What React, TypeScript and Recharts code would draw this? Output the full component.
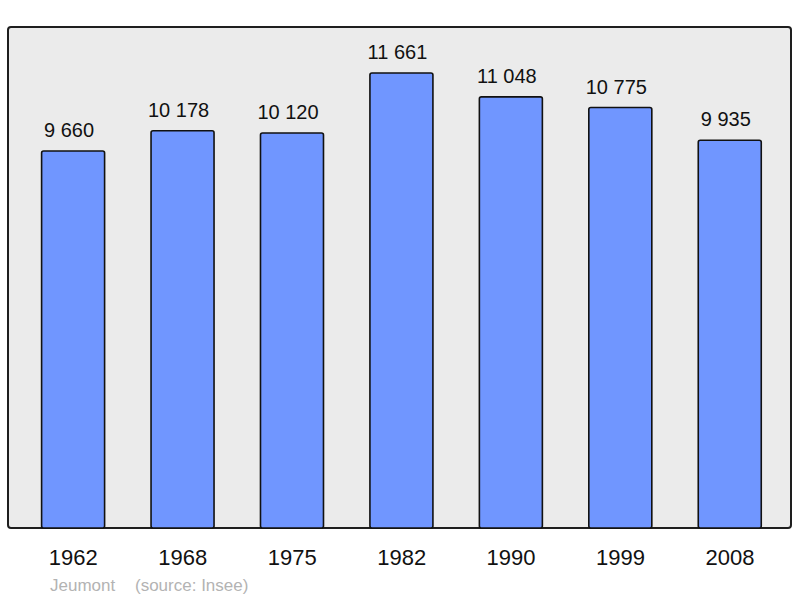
import React from "react";
import { BarChart, Bar, XAxis, YAxis, LabelList } from "recharts";

const years = ["1962", "1968", "1975", "1982", "1990", "1999", "2008"];
const population = [9660, 10178, 10120, 11661, 11048, 10775, 9935];

const FONT = '"Liberation Sans", Arial, sans-serif';

const data = years.map((year, i) => ({ year, population: population[i] }));

const fmt = (v: number) => String(v).replace(/\B(?=(\d{3})+(?!\d))/g, " ");

function YearTick(props: any) {
  const { x, y, payload } = props;
  return (
    <text x={x} y={y} dy={29} textAnchor="middle" fontSize={22} fill="#111" fontFamily={FONT}>
      {payload.value}
    </text>
  );
}

export default function App() {
  return (
    <div style={{ position: "absolute", left: 0, top: 0, width: 800, height: 598, background: "#fff" }}>
      <div
        style={{
          position: "absolute",
          left: 7,
          top: 26,
          width: 785,
          height: 503,
          boxSizing: "border-box",
          border: "2px solid #1e1e1e",
          borderRadius: 4,
          background: "#ebebeb",
        }}
      />
      <div style={{ position: "absolute", left: 0, top: 0 }}>
        <BarChart
          width={800}
          height={598}
          data={data}
          margin={{ top: 59.7, right: 15.3, bottom: 40, left: 18.6 }}
          barSize={63}
        >
          <YAxis hide domain={[0, 12000]} />
          <XAxis
            dataKey="year"
            height={30}
            axisLine={false}
            tickLine={false}
            tick={<YearTick />}
            interval={0}
          />
          <Bar
            dataKey="population"
            fill="#7096ff"
            stroke="#111"
            strokeWidth={1.6}
            radius={2}
            isAnimationActive={false}
          >
            <LabelList
              dataKey="population"
              position="top"
              offset={14}
              dx={-4}
              formatter={(v: any) => fmt(Number(v))}
              style={{ fontSize: 20, fontFamily: FONT, fill: "#111", stroke: "none" }}
            />
          </Bar>
        </BarChart>
      </div>
      <svg width={800} height={598} style={{ position: "absolute", left: 0, top: 0, pointerEvents: "none" }}>
        <text x={50} y={591} fontSize={17} fill="#b3b3b3" fontFamily={FONT}>Jeumont</text>
        <text x={135} y={591} fontSize={17} fill="#b3b3b3" fontFamily={FONT}>(source: Insee)</text>
      </svg>
    </div>
  );
}
